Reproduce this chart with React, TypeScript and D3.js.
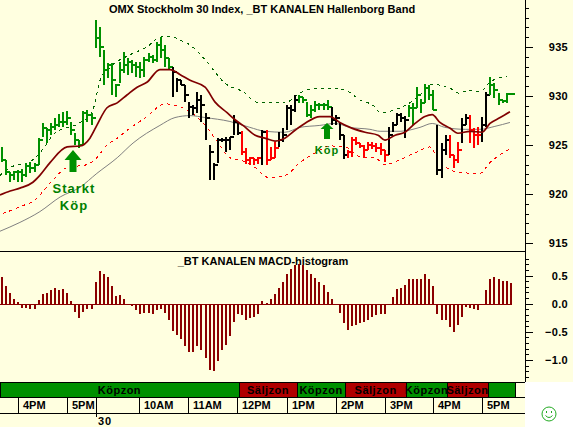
import React from "react";
import * as d3 from "d3";

const highs = [924.8,923.5,922.2,922.3,922.4,922.6,923.2,923.3,923.2,925.7,927.2,926.7,927.2,927.8,928.2,928.4,928.5,927.3,926.2,925.5,928.5,928.6,928.3,937.8,937,934.7,933.4,933.4,931.2,933.5,934.5,933.9,933.7,933.5,933.5,934,934.4,934.2,935.5,936,935.2,933.9,933,931.8,931.6,931.1,929.4,929.1,930.4,930.1,928.3,925,923.2,925.7,925.7,925.8,925.8,928.1,927.3,926.4,924.7,923.8,923.7,923.8,926.5,926.5,924.8,925.3,926.3,926.7,929.1,929.1,930.1,930.1,929.9,929.4,929.1,929.5,929.3,929.3,929.6,928.9,928.1,927.3,926,924.5,925.8,925.8,925.2,925,925.3,925.3,925.2,925.2,924.5,926.8,927.3,928.3,928.3,928,929.1,929.3,930.9,929.7,931.2,931.1,930.6,927,925.2,926,926,924,925.3,927.8,928.2,928.1,926.7,926.8,927.9,930.4,931.9,931.3,930.3,929.6,930.3,930.3];
const lows = [923.3,921.9,921.2,921.4,921.2,921.2,921.7,922.1,922.2,923,925.8,925.2,926,926.5,926.8,926.8,927,926,925,924.7,925,927.3,927,934.9,934,931.1,931.8,930.1,929.9,931.3,932.3,932.1,932.3,931.9,931.8,931.9,933.5,933.4,933.5,933.9,933,932.7,929.9,930.4,931.1,929.4,927.8,928.1,928.3,927.3,925.5,921.4,921.4,923.2,925.3,924.3,924.5,926,926,924,923.1,923,923,923.1,923,923,923.5,923.7,924.8,925.3,926.5,927,928.4,929.3,929.3,927.9,927.8,928.4,928.6,928.6,928.6,927,927,925.5,923.6,923.7,923.8,925,924.7,923.7,924.5,924.6,924.3,924,923.3,924,926.3,927,927.3,925.7,927.9,927,928.8,928.3,929.3,929.6,928.6,921.9,921.6,924,923.7,922.7,923.2,925.2,927,925.2,924.7,925,925.3,926.8,930.1,929.8,929.1,929.3,929.3,930.2];
const closes = [923.5,922.2,921.9,922.2,922.2,921.9,922.9,922.7,923,925.5,926.7,926.5,926.8,927,927.3,927.3,927.8,926.5,925.5,925,928.3,928.1,927.8,935.9,935,932.7,933.2,931.6,931.1,932.7,933.2,933.5,933.2,933,932.7,933.7,934,933.7,935.2,934.7,933.9,933,932.4,931.6,931.1,930.1,928.9,928.8,929.6,929.1,927.8,924.3,923,925.5,925.5,925.5,925.8,927.3,926.2,924.3,923.5,923.7,923.5,923.7,926.3,923.5,923.7,924.7,925.5,926,928.8,928.6,929.6,929.9,929.6,928.1,928.6,929.1,929.1,929.1,928.9,927.6,927.8,926,924,924.3,925.5,925.2,924.9,924.5,925,924.9,924.7,924.5,924,926,927,928.1,927.8,927.6,928.8,928.8,930.1,929.3,930.8,930.1,928.6,922.4,924.5,925.5,924,923.5,924.5,927,927.8,926.5,926,926,927,930.1,931.1,930.6,929.6,929.5,930.2,930.2];
const signalRuns: [string, number][] = [["G",42],["B",17],["R",5],["B",1],["R",3],["B",5],["G",8],["B",4],["R",10],["B",5],["G",7],["B",3],["R",3],["B",2],["R",3],["B",2],["G",6]];

const maLine: [number, number][] = [[-0.5,919.9],[2,920.3],[4.4,920.6],[7.6,921.2],[9.3,921.9],[11.8,923.2],[16,924.8],[19.2,924.9],[21.6,925.7],[23.3,927],[25.8,928.8],[28.3,929.3],[30.7,930.1],[33.2,930.9],[35.6,931.4],[38.8,932.7],[41.3,932.7],[43.7,932.2],[46.2,931.6],[49.9,930.9],[52.3,929.4],[55.3,928.3],[57.2,927.6],[59.2,927],[62.2,926],[64.6,925.7],[67.1,925.4],[69.5,925.7],[72,926.5],[74.4,927.2],[78.1,927.9],[80.6,927.9],[83,927.3],[85.5,926.8],[89.2,926.3],[92.4,926],[94.1,925.5],[96.6,926],[99,926.3],[101.5,927.2],[103.9,927.9],[105.7,928.1],[107.6,927.3],[110.1,926.7],[112,926.2],[115,926.4],[117.9,926.3],[119.9,927.2],[122.4,927.8],[124.8,928.4]];
const grayLine: [number, number][] = [[-0.5,916.2],[4.4,917.1],[9.3,918.2],[14.3,919.7],[19.2,920.7],[23.3,922.1],[28.3,923.7],[32.2,925.2],[38.8,927],[42.5,927.8],[46.2,928],[49.9,927.8],[56,927.4],[60.9,926.8],[64.6,926.4],[69.5,926.3],[73.2,926.8],[78.1,927],[81.8,927.2],[85.5,926.8],[90.4,926.6],[92.9,926.4],[97.8,926.4],[102.7,926.8],[105.7,927.2],[108.8,926.8],[113.8,926.6],[117.4,926.6],[121.1,926.9],[124.8,927.3]];
const upperBand: [number, number][] = [[-0.5,921.9],[2,922.7],[6.9,923.3],[9.3,924.2],[13,926.2],[19.2,927.3],[22.1,928.3],[24.1,931.6],[26.5,932.9],[31.4,934.2],[35.6,935],[38.8,936],[41.3,936.1],[43.7,935.7],[46.2,935.2],[49.9,933.7],[54.8,931.3],[59.7,930.3],[62.2,929.4],[65.8,929.3],[69.5,929.3],[73.2,930.3],[76.9,930.8],[80.6,930.8],[84.3,930.6],[88,929.6],[91.6,928.9],[92.9,928.3],[97.8,928.8],[100.2,929.3],[102.7,930.1],[105.2,931.2],[107.6,931.1],[110.1,930.8],[112,930.3],[115,930.6],[117.4,930.4],[119.9,931.4],[122.4,931.9],[124.1,932]];
const lowerBand: [number, number][] = [[0.2,918],[4.4,918.7],[8.1,919.4],[11.8,921.1],[16,922.7],[20.9,923],[23.3,923.7],[25.8,925],[28.3,925.7],[31.4,926.7],[35.6,927.9],[40,929.2],[43.7,928.9],[46.2,928.4],[49.9,927],[52.3,925.7],[56,923.7],[59.7,923.3],[62.2,922.7],[65.4,921.7],[69.5,921.9],[73.2,923.2],[76.9,924.2],[80.6,924.9],[84.3,924.8],[88,923.8],[91.6,923.7],[94.1,923],[97.8,923.5],[101.5,924.2],[105.2,924.8],[106.9,923.7],[108.8,922.8],[112.5,922.2],[117.4,922.1],[119.9,923.2],[122.4,924],[124.8,924.6]];

const histogram = [.48,.32,.19,.09,.03,-.07,-.07,-.09,-.09,.06,.18,.19,.24,.28,.24,.26,.19,.04,-.15,-.26,-.15,-.09,-.1,.39,.58,.53,.48,.32,.13,.15,.09,0,-.04,-.11,-.19,-.16,-.16,-.19,-.12,-.09,-.16,-.29,-.48,-.56,-.62,-.75,-.85,-.85,-.76,-.82,-.97,-1.18,-1.2,-1.01,-.82,-.74,-.57,-.32,-.18,-.21,-.29,-.26,-.24,-.19,.05,.02,.09,.18,.28,.38,.53,.62,.69,.71,.69,.59,.53,.46,.38,.34,.21,.09,0,-.16,-.34,-.46,-.4,-.38,-.34,-.32,-.29,-.24,-.21,-.19,-.19,-.03,.11,.26,.28,.34,.43,.43,.43,.43,.52,.44,.32,-.19,-.29,-.29,-.42,-.5,-.38,-.24,-.06,-.07,-.09,-.11,-.02,.24,.44,.48,.44,.41,.41,.37];

const priceLabels = [935, 930, 925, 920, 915];
const priceMinor = [940,939,938,937,936,934,933,932,931,929,928,927,926,924,923,922,921,919,918,917,916,914];
const histLabels = [0.5, 0, -0.5, -1];
const histMinor = [.8,.7,.6,.4,.3,.2,.1,-.1,-.2,-.3,-.4,-.6,-.7,-.8,-.9,-1.1,-1.2,-1.3];
const zoneEdges = [-0.5,58.2,72.5,84.3,99.3,109.3,119.4,126];
const zoneNames = ["Köpzon","Säljzon","Köpzon","Säljzon","Köpzon","Säljzon",""];
const timeTicks = [3.93,15.97,33.7,45.7,57.7,70,82,94,106,118];
const timeLabels = ["4PM","5PM","10AM","11AM","12PM","1PM","2PM","3PM","4PM","5PM"];
const dayBreak = 23;
const dayLabel = "30";

const W = 573, H = 427, AX = 525;
const BG = "#FFFFE0", GREEN = "#009000", DKRED = "#800000";
const FONT = "'Liberation Sans', Arial, sans-serif";

const x = d3.scaleLinear().domain([0, 125]).range([2, 510.75]);
const y = d3.scaleLinear().domain([915, 935]).range([243, 47]);
const yh = d3.scaleLinear().domain([-1, 0.5]).range([360, 275.5]);
const px = (v: number) => Math.round(v);
const line = d3.line<[number, number]>().x(d => x(d[0])).y(d => y(d[1])).curve(d3.curveMonotoneX);

const colorOf: Record<string, string> = { G: GREEN, B: "#000000", R: "#FF0000" };
const barColors = signalRuns.flatMap(([c, n]) => d3.range(n).map(() => colorOf[c]));

function Arrow({ cx, tip, base, bottom, hw, sw }: { cx: number; tip: number; base: number; bottom: number; hw: number; sw: number }) {
  return (
    <path
      d={`M${cx},${tip}L${cx + hw},${base}L${cx + sw},${base}L${cx + sw},${bottom}L${cx - sw},${bottom}L${cx - sw},${base}L${cx - hw},${base}Z`}
      fill={GREEN}
    />
  );
}

export default function App() {
  return (
    <svg
      width={W}
      height={H}
      viewBox={`0 0 ${W} ${H}`}
      style={{ position: "fixed", left: 0, top: 0, display: "block" }}
      fontFamily={FONT}
    >
      <rect x={0} y={0} width={W} height={H} fill={BG} />
      <rect x={AX} y={382} width={W - AX} height={H - 382} fill="#FFFFFF" />

      <defs>
        <clipPath id="plot"><rect x={0} y={0} width={AX} height={251} /></clipPath>
      </defs>

      <g clipPath="url(#plot)">
        <path d={line(upperBand) || ""} fill="none" stroke="#006400" strokeWidth={1} strokeDasharray="3 4" shapeRendering="crispEdges" />
        <path d={line(lowerBand) || ""} fill="none" stroke="#FF0000" strokeWidth={1} strokeDasharray="3 4" shapeRendering="crispEdges" />
        <path d={line(grayLine) || ""} fill="none" stroke="#808080" strokeWidth={1} />
        <g shapeRendering="crispEdges">
          {highs.map((h, i) => {
            const cx = px(x(i));
            return (
              <g key={i} stroke={barColors[i]} strokeWidth={2}>
                <line x1={cx} x2={cx} y1={px(y(h))} y2={px(y(lows[i]))} />
                <line x1={cx} x2={cx + 4} y1={px(y(closes[i]))} y2={px(y(closes[i]))} />
              </g>
            );
          })}
        </g>
        <path d={line(maLine) || ""} fill="none" stroke={DKRED} strokeWidth={1.7} />
      </g>

      <Arrow cx={73} tip={150} base={160} bottom={172} hw={8.5} sw={3.5} />
      <Arrow cx={327} tip={123} base={129} bottom={139} hw={6.5} sw={3} />
      <g fill="#008000" fontWeight="bold" textAnchor="middle">
        <text x={74} y={193} fontSize={13} letterSpacing={1}>Starkt</text>
        <text x={74} y={210} fontSize={13} letterSpacing={1}>Köp</text>
        <text x={327} y={154} fontSize={11} letterSpacing={1}>Köp</text>
      </g>

      <text x={262} y={13} fontSize={11} fontWeight="bold" textAnchor="middle" fill="#000">OMX Stockholm 30 Index, _BT KANALEN Hallenborg Band</text>
      <text x={263} y={265} fontSize={11} fontWeight="bold" textAnchor="middle" fill="#000">_BT KANALEN MACD-histogram</text>

      <g shapeRendering="crispEdges">
        {histogram.map((v, i) => {
          const cx = px(x(i));
          const a = px(yh(0)), b = px(yh(v));
          return <rect key={i} x={cx - 1} y={Math.min(a, b)} width={2} height={Math.abs(a - b)} fill="#8B0000" />;
        })}
        <line x1={0} x2={px(x(125)) + 1} y1={px(yh(0)) + 0.5} y2={px(yh(0)) + 0.5} stroke="#8B0000" />

        <line x1={0} x2={AX} y1={251.5} y2={251.5} stroke="#000" />
        <line x1={AX + 0.5} x2={AX + 0.5} y1={0} y2={382} stroke="#000" />
        {priceMinor.map(v => y(v) >= 0 && y(v) <= 250 ? (
          <line key={v} x1={AX} x2={AX + 4} y1={px(y(v)) + 0.5} y2={px(y(v)) + 0.5} stroke="#000" />
        ) : null)}
        {priceLabels.map(v => (
          <line key={v} x1={AX} x2={AX + 8} y1={px(y(v)) + 0.5} y2={px(y(v)) + 0.5} stroke="#000" />
        ))}
        {histMinor.map(v => (
          <line key={v} x1={AX} x2={AX + 4} y1={px(yh(v)) + 0.5} y2={px(yh(v)) + 0.5} stroke="#000" />
        ))}
        {histLabels.map(v => (
          <line key={v} x1={AX} x2={AX + 8} y1={px(yh(v)) + 0.5} y2={px(yh(v)) + 0.5} stroke="#000" />
        ))}
      </g>

      <g fontSize={11} fontWeight="bold" fill="#000" textAnchor="end" letterSpacing={0.3}>
        {priceLabels.map(v => <text key={v} x={568} y={y(v) + 4}>{v}</text>)}
        {histLabels.map(v => <text key={v} x={568} y={yh(v) + 4}>{d3.format(".1f")(v)}</text>)}
      </g>

      <g shapeRendering="crispEdges">
        {zoneNames.map((_, i) => (
          <rect
            key={i}
            x={px(x(zoneEdges[i])) + 0.5}
            y={382.5}
            width={px(x(zoneEdges[i + 1])) - px(x(zoneEdges[i]))}
            height={15}
            fill={i % 2 === 0 ? "#009000" : "#B00000"}
            stroke="#000"
          />
        ))}
        <line x1={0} x2={AX} y1={382.5} y2={382.5} stroke="#000" />
        <line x1={0} x2={AX} y1={397.5} y2={397.5} stroke="#000" />
        <line x1={0} x2={AX} y1={413.5} y2={413.5} stroke="#000" />
        {timeTicks.map((t, i) => (
          <line key={i} x1={px(x(t)) + 0.5} x2={px(x(t)) + 0.5} y1={397} y2={413} stroke="#000" />
        ))}
        <line x1={px(x(dayBreak)) + 0.5} x2={px(x(dayBreak)) + 0.5} y1={397} y2={417} stroke="#000" />
      </g>
      <g fontSize={11} fontWeight="bold" fill="#000" textAnchor="middle" letterSpacing={0.5}>
        {zoneNames.map((n, i) => (
          <text key={i} x={(x(zoneEdges[i]) + x(zoneEdges[i + 1])) / 2} y={394}>{n}</text>
        ))}
      </g>
      <g fontSize={11} fontWeight="bold" fill="#000">
        {timeLabels.map((l, i) => (
          <text key={i} x={px(x(timeTicks[i])) + 5} y={409}>{l}</text>
        ))}
        <text x={px(x(dayBreak)) + 2} y={425} letterSpacing={1}>{dayLabel}</text>
      </g>

      <g fill="none" stroke="#22AA22" strokeWidth={1}>
        <circle cx={549} cy={414} r={7} />
        <path d="M545.5,415.5Q549,419.5 552.5,415.5" />
        <path d="M546.5,411v2M551.5,411v2" />
      </g>
    </svg>
  );
}
